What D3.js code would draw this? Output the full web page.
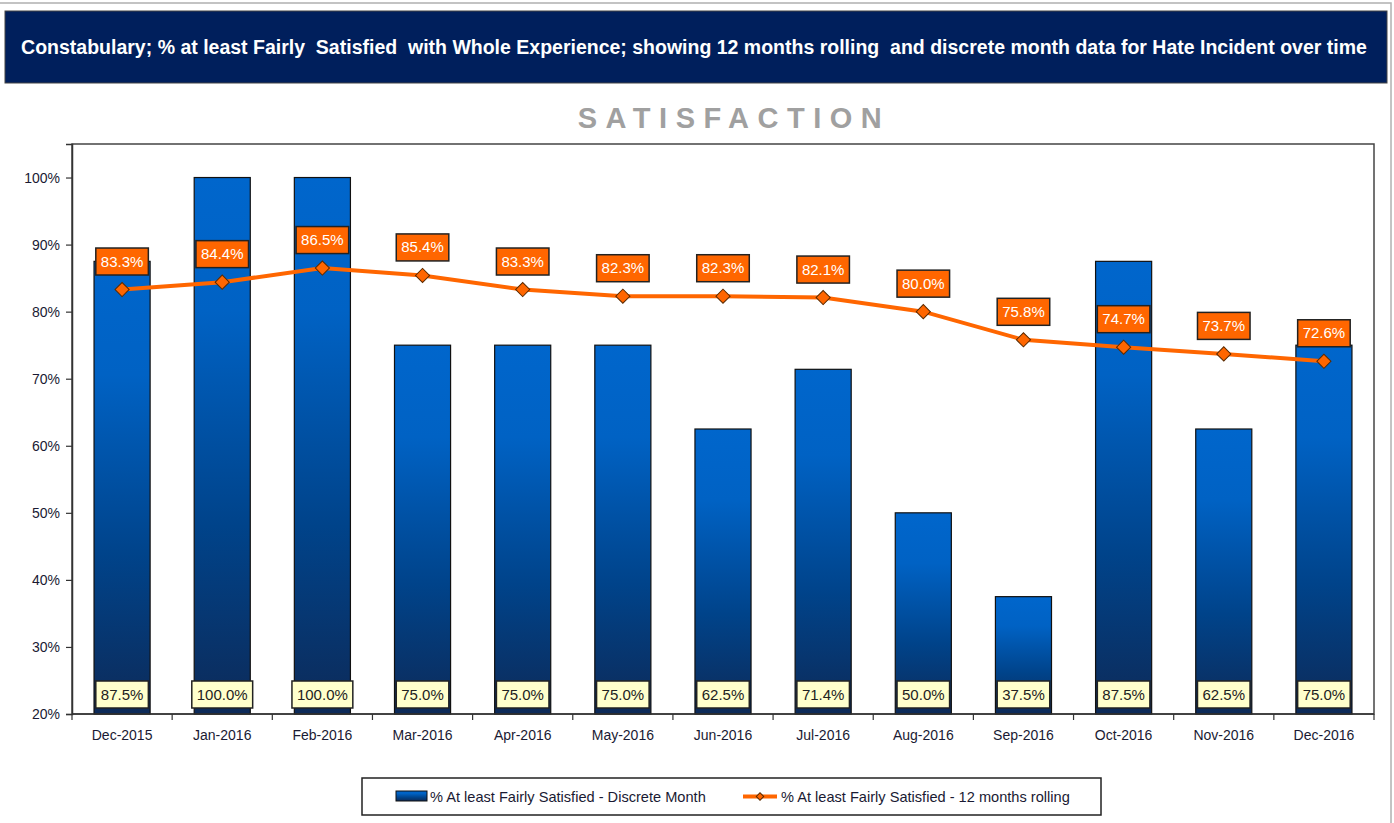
<!DOCTYPE html>
<html>
<head>
<meta charset="utf-8">
<script src="https://cdn.jsdelivr.net/npm/d3@7"></script>
<style>
  body { margin: 0; background: #fff; font-family: "Liberation Sans", Arial, sans-serif; }
</style>
</head>
<body>
<div id="GraphDiv"></div>
<script>
// Chart data.
const months = ["Dec-2015", "Jan-2016", "Feb-2016", "Mar-2016", "Apr-2016", "May-2016", "Jun-2016",
                "Jul-2016", "Aug-2016", "Sep-2016", "Oct-2016", "Nov-2016", "Dec-2016"]
const discreteMonth = [87.5, 100.0, 100.0, 75.0, 75.0, 75.0, 62.5, 71.4, 50.0, 37.5, 87.5, 62.5, 75.0]
const rolling12 = [83.3, 84.4, 86.5, 85.4, 83.3, 82.3, 82.3, 82.1, 80.0, 75.8, 74.7, 73.7, 72.6]
const yTicks = [20, 30, 40, 50, 60, 70, 80, 90, 100]
const titleText = "Constabulary; % at least Fairly  Satisfied  with Whole Experience; showing 12 months rolling  and discrete month data for Hate Incident over time"
const seriesNames = ["% At least Fairly Satisfied - Discrete Month", "% At least Fairly Satisfied - 12 months rolling"]

// Global sizes.
let width = 1394
let height = 823
let margins = {"left": 72, "top": 144};
let plotW = 1302
let plotH = 570
const orange = "#ff6600"

let svg = d3.select("#GraphDiv")
    .append("svg")
    .attr("width", width)
    .attr("height", height);

// Outer frame.
svg.append("rect")
    .attr("x", -2).attr("y", 3).attr("width", 1393).attr("height", 830)
    .style("fill", "none").style("stroke", "#b0b0b0").style("stroke-width", 1.5);

// Title banner.
svg.append("rect")
    .attr("x", 5).attr("y", 11).attr("width", 1382).attr("height", 72)
    .style("fill", "#001f5c").style("stroke", "#444").style("stroke-width", 1);
svg.append("text")
    .attr("x", 694).attr("y", 54)
    .style("text-anchor", "middle")
    .style("fill", "#fff").style("font-size", "19.5px").style("font-weight", "bold")
    .style("white-space", "pre")
    .text(titleText);

// Chart heading.
svg.append("text")
    .attr("x", 734).attr("y", 128)
    .style("text-anchor", "middle")
    .style("fill", "#a0a0a0").style("font-size", "29px").style("font-weight", "bold")
    .style("letter-spacing", "8.5px")
    .text("SATISFACTION");

// Scales.
let xRange = d3.scaleBand().domain(months).range([0, plotW]).paddingInner(0.44).paddingOuter(0.22);
let xBand = d3.scaleBand().domain(months).range([0, plotW]);
let yRange = d3.scaleLinear().domain([20, 105]).range([plotH, 0]);

let g = svg.append("g").attr("transform", "translate(" + margins.left + "," + margins.top + ")");

// Plot area border.
g.append("rect")
    .attr("x", 0).attr("y", 0).attr("width", plotW).attr("height", plotH)
    .style("fill", "#fff").style("stroke", "#444").style("stroke-width", 1.5);

// Bar gradient.
let defs = svg.append("defs");
let grad = defs.append("linearGradient").attr("id", "barGrad")
    .attr("x1", 0).attr("y1", 0).attr("x2", 0).attr("y2", 1);
grad.append("stop").attr("offset", "0%").attr("stop-color", "#0066cc");
grad.append("stop").attr("offset", "25%").attr("stop-color", "#0062c4");
grad.append("stop").attr("offset", "65%").attr("stop-color", "#00438a");
grad.append("stop").attr("offset", "100%").attr("stop-color", "#0d2a58");

// Bars.
g.selectAll("rect.bar")
    .data(discreteMonth)
    .enter()
    .append("rect")
    .attr("class", "bar")
    .attr("x", (d, i) => xRange(months[i]))
    .attr("y", d => yRange(d))
    .attr("width", xRange.bandwidth())
    .attr("height", d => yRange(20) - yRange(d))
    .style("fill", "url(#barGrad)")
    .style("stroke", "#111").style("stroke-width", 1.2);

// Axes.
let yAxis = d3.axisLeft(yRange).tickValues(yTicks).tickSize(6).tickPadding(6)
    .tickFormat(d => d + "%");
let yG = g.append("g").call(yAxis);
let xAxis = d3.axisBottom(xBand).tickSize(0).tickPadding(16);
let xG = g.append("g").attr("transform", "translate(0," + plotH + ")").call(xAxis);
[yG, xG].forEach(a => {
    a.select(".domain").style("stroke", "#333").style("stroke-width", 1.5);
    a.selectAll("text").style("font-size", "14px").style("fill", "#1a1a33")
        .style("font-family", "'Liberation Sans', Arial, sans-serif");
    a.selectAll("line").style("stroke", "#333").style("stroke-width", 1.2);
});
xG.select(".domain").attr("d", "M0,0H" + plotW);
// Category boundary ticks.
xG.selectAll("line.sep")
    .data(months.concat(["end"]))
    .enter()
    .append("line")
    .attr("class", "sep")
    .attr("x1", (d, i) => i * xBand.step()).attr("x2", (d, i) => i * xBand.step())
    .attr("y1", 0).attr("y2", 6)
    .style("stroke", "#333").style("stroke-width", 1.2);

// Rolling line.
let line = d3.line()
    .x((d, i) => xBand(months[i]) + xBand.bandwidth() / 2)
    .y(d => yRange(d));
g.append("path")
    .datum(rolling12)
    .attr("d", line)
    .style("fill", "none").style("stroke", orange).style("stroke-width", 4);

// Square markers turned 45 degrees, like the spreadsheet diamonds.
let diamond = d3.symbol().type(d3.symbolSquare).size(100);
g.selectAll("path.pt")
    .data(rolling12)
    .enter()
    .append("path")
    .attr("class", "pt")
    .attr("d", diamond)
    .attr("transform", (d, i) => "translate(" + (xBand(months[i]) + xBand.bandwidth() / 2) + "," + yRange(d) + ") rotate(45)")
    .style("fill", orange).style("stroke", "#5a2a00").style("stroke-width", 1);

// Label boxes helper.
function addLabel(cx, cy, txt, fill, color) {
    let lg = g.append("g");
    let t = lg.append("text")
        .attr("x", cx).attr("y", cy + 5)
        .style("text-anchor", "middle").style("font-size", "15px").style("fill", color)
        .text(txt);
    let w = t.node().getComputedTextLength() + 10;
    lg.insert("rect", "text")
        .attr("x", cx - w / 2).attr("y", cy - 13.5).attr("width", w).attr("height", 27)
        .style("fill", fill).style("stroke", "#222").style("stroke-width", 1.5);
}

rolling12.forEach((d, i) => {
    addLabel(xBand(months[i]) + xBand.bandwidth() / 2, yRange(d) - 28, d.toFixed(1) + "%", orange, "#fff");
});
discreteMonth.forEach((d, i) => {
    addLabel(xBand(months[i]) + xBand.bandwidth() / 2, plotH - 19.5, d.toFixed(1) + "%", "#ffffcc", "#222");
});

// Legend.
let lg = svg.append("g").attr("transform", "translate(362,778)");
lg.append("rect").attr("width", 739).attr("height", 37)
    .style("fill", "#fff").style("stroke", "#222").style("stroke-width", 1.5);
lg.append("rect").attr("x", 34).attr("y", 13).attr("width", 31).attr("height", 10)
    .style("fill", "url(#barGrad)").style("stroke", "#111").style("stroke-width", 1);
lg.append("text").attr("x", 68).attr("y", 24).style("font-size", "14.6px").style("fill", "#1a1a33")
    .text(seriesNames[0]);
lg.append("line").attr("x1", 381).attr("x2", 415).attr("y1", 18.5).attr("y2", 18.5)
    .style("stroke", orange).style("stroke-width", 4);
lg.append("path").attr("d", d3.symbol().type(d3.symbolSquare).size(28))
    .attr("transform", "translate(398,18.5) rotate(45)")
    .style("fill", orange).style("stroke", "#5a2a00").style("stroke-width", 1);
lg.append("text").attr("x", 419).attr("y", 24).style("font-size", "14.6px").style("fill", "#1a1a33")
    .text(seriesNames[1]);
</script>
</body>
</html>
